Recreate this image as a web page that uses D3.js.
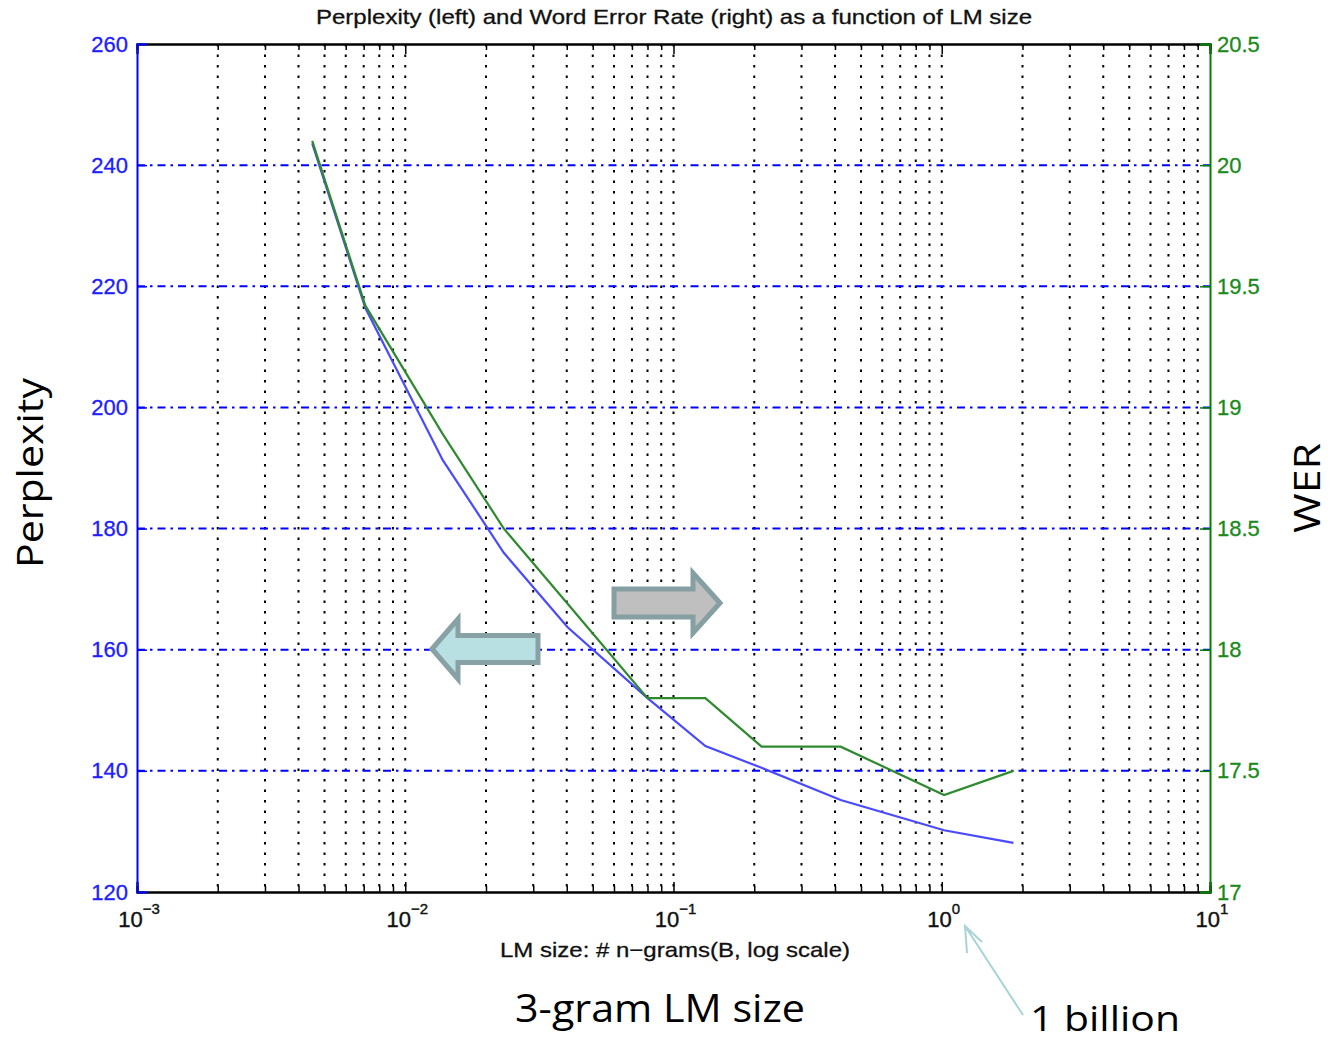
<!DOCTYPE html>
<html>
<head>
<meta charset="utf-8">
<script src="https://cdn.jsdelivr.net/npm/d3@7"></script>
<style>
  body { margin: 0; background: #fff; }
  svg { display: block; }
</style>
</head>
<body>
<div id="chart"></div>
<script>
// LM size in billions of n-grams
const lmSize = [0.0045, 0.0071, 0.0138, 0.0233, 0.0403, 0.080, 0.1315, 0.213, 0.42, 1.02, 1.85]
const perplexity = [243.6, 216.4, 191.3, 176.0, 163.7, 152.0, 144.1, 140.5, 135.2, 130.2, 128.1]
const wer = [20.10, 19.42, 18.89, 18.50, 18.19, 17.80, 17.80, 17.60, 17.60, 17.40, 17.50]

const xMajor = [1e-3, 1e-2, 1e-1, 1e0, 1e1]
const xExp = ['−3', '−2', '−1', '0', '1']
const pplTicks = [120, 140, 160, 180, 200, 220, 240, 260]
const werTicks = [17, 17.5, 18, 18.5, 19, 19.5, 20, 20.5]

const svg = d3.select('#chart').append('svg')
  .attr('width', 1330)
  .attr('height', 1043)

const margin = {top: 44, right: 120, bottom: 151, left: 137}
const width = 1330 - margin.left - margin.right
const height = 1043 - margin.top - margin.bottom

const g = svg.append('g')
  .attr('transform', `translate(${margin.left}, ${margin.top})`)

const x = d3.scaleLog().domain([1e-3, 1e1]).range([0, width])
const yL = d3.scaleLinear().domain([120, 260]).range([height, 0])
const yR = d3.scaleLinear().domain([17, 20.5]).range([height, 0])

// minor ticks 2..9 in every decade
const xMinor = []
xMajor.slice(0, -1).forEach(d => {
  for (let k = 2; k <= 9; k++) xMinor.push(d * k)
})

// vertical dotted grid
g.append('g').selectAll('line')
  .data(xMinor.concat(xMajor.slice(1, -1)))
  .enter().append('line')
  .attr('x1', d => x(d)).attr('x2', d => x(d))
  .attr('y1', 0).attr('y2', height)
  .attr('stroke', '#000')
  .attr('stroke-width', 2)
  .attr('stroke-dasharray', '2.5,8')

// horizontal dash-dot grid
g.append('g').selectAll('line')
  .data(pplTicks.slice(1, -1))
  .enter().append('line')
  .attr('x1', 0).attr('x2', width)
  .attr('y1', d => yL(d)).attr('y2', d => yL(d))
  .attr('stroke', '#0000ff')
  .attr('stroke-width', 2)
  .attr('stroke-dasharray', '8,5,2.5,5')

// top & bottom frame with ticks
const axB = g.append('g').attr('transform', `translate(0, ${height})`)
  .call(d3.axisBottom(x).tickValues(xMajor).tickSize(-10).tickFormat(''))
const axBm = g.append('g').attr('transform', `translate(0, ${height})`)
  .call(d3.axisBottom(x).tickValues(xMinor).tickSize(-6).tickFormat(''))
const axT = g.append('g')
  .call(d3.axisTop(x).tickValues(xMajor).tickSize(-10).tickFormat(''))
const axTm = g.append('g')
  .call(d3.axisTop(x).tickValues(xMinor).tickSize(-6).tickFormat(''))
;[axB, axBm, axT, axTm].forEach(a => {
  a.select('.domain').attr('stroke', '#000').attr('stroke-width', 2)
  a.selectAll('.tick line').attr('stroke', '#000').attr('stroke-width', 1.5)
})

// x tick labels as 10^n
const xl = g.append('g').selectAll('text')
  .data(xMajor)
  .enter().append('text')
  .attr('x', d => x(d) + 2)
  .attr('y', height + 35)
  .attr('text-anchor', 'middle')
  .attr('font-family', 'Liberation Sans, Arial, sans-serif')
  .attr('font-size', 22)
  .attr('fill', '#111')
  .attr('stroke', '#111')
  .attr('stroke-width', 0.4)
xl.append('tspan').text('10')
xl.append('tspan').attr('dy', -13).attr('font-size', 15).text((d, i) => xExp[i])

// left axis (blue)
const axL = g.append('g')
  .call(d3.axisLeft(yL).tickValues(pplTicks).tickSize(-10).tickPadding(9))
axL.select('.domain').attr('stroke', '#0000ff').attr('stroke-width', 2)
axL.selectAll('.tick line').attr('stroke', '#0000ff').attr('stroke-width', 1.5)
axL.selectAll('.tick text')
  .attr('fill', '#2020ff')
  .attr('stroke', '#2020ff')
  .attr('stroke-width', 0.3)
  .attr('font-family', 'Liberation Sans, Arial, sans-serif')
  .attr('font-size', 22)

// right axis (green)
const axR = g.append('g').attr('transform', `translate(${width}, 0)`)
  .call(d3.axisRight(yR).tickValues(werTicks).tickSize(-10).tickPadding(7)
    .tickFormat(d3.format('')))
axR.select('.domain').attr('stroke', '#008000').attr('stroke-width', 2)
axR.selectAll('.tick line').attr('stroke', '#008000').attr('stroke-width', 1.5)
axR.selectAll('.tick text')
  .attr('fill', '#1b8a1b')
  .attr('stroke', '#1b8a1b')
  .attr('stroke-width', 0.3)
  .attr('font-family', 'Liberation Sans, Arial, sans-serif')
  .attr('font-size', 22)

// series
const rows = lmSize.map((d, i) => ({size: d, ppl: perplexity[i], wer: wer[i]}))

g.append('path')
  .datum(rows)
  .attr('fill', 'none')
  .attr('stroke', '#4a4aff')
  .attr('stroke-width', 2.2)
  .attr('d', d3.line().x(d => x(d.size)).y(d => yL(d.ppl)))

g.append('path')
  .datum(rows)
  .attr('fill', 'none')
  .attr('stroke', '#2f8a2f')
  .attr('stroke-width', 2.2)
  .attr('d', d3.line().x(d => x(d.size)).y(d => yR(d.wer)))

// block arrows pointing to each axis
function blockArrow(tipX, tipY, dir, len, bodyH, headH, headL) {
  const b = tipX - dir * headL
  const e = tipX - dir * len
  return `M${tipX},${tipY} L${b},${tipY - headH / 2} L${b},${tipY - bodyH / 2} L${e},${tipY - bodyH / 2}` +
    ` L${e},${tipY + bodyH / 2} L${b},${tipY + bodyH / 2} L${b},${tipY + headH / 2} Z`
}
svg.append('path')
  .attr('d', blockArrow(432, 649, -1, 106, 27, 60, 26))
  .attr('fill', '#b8dfe2')
  .attr('stroke', '#87a1a4')
  .attr('stroke-width', 5)
  .attr('stroke-linejoin', 'miter')
svg.append('path')
  .attr('d', blockArrow(720, 603, 1, 106, 28, 60, 27))
  .attr('fill', '#bfbfbf')
  .attr('stroke', '#869fa2')
  .attr('stroke-width', 5)

// titles
svg.append('text')
  .attr('x', 674).attr('y', 24)
  .attr('text-anchor', 'middle')
  .attr('font-family', 'Liberation Sans, Arial, sans-serif')
  .attr('font-size', 21)
  .attr('textLength', 716)
  .attr('lengthAdjust', 'spacingAndGlyphs')
  .attr('fill', '#111')
  .attr('stroke', '#111')
  .attr('stroke-width', 0.3)
  .text('Perplexity (left) and Word Error Rate (right) as a function of LM size')

svg.append('text')
  .attr('x', 675).attr('y', 957)
  .attr('text-anchor', 'middle')
  .attr('font-family', 'Liberation Sans, Arial, sans-serif')
  .attr('font-size', 21)
  .attr('textLength', 350)
  .attr('lengthAdjust', 'spacingAndGlyphs')
  .attr('fill', '#111')
  .attr('stroke', '#111')
  .attr('stroke-width', 0.3)
  .text('LM size: # n−grams(B, log scale)')

svg.append('text')
  .attr('transform', 'translate(43, 473) rotate(-90)')
  .attr('text-anchor', 'middle')
  .attr('font-family', 'Open Sans, sans-serif')
  .attr('font-size', 37)
  .attr('textLength', 190)
  .attr('lengthAdjust', 'spacingAndGlyphs')
  .attr('fill', '#000')
  .text('Perplexity')

svg.append('text')
  .attr('transform', 'translate(1320, 488) rotate(-90)')
  .attr('text-anchor', 'middle')
  .attr('font-family', 'Open Sans, sans-serif')
  .attr('font-size', 36)
  .attr('textLength', 90)
  .attr('lengthAdjust', 'spacingAndGlyphs')
  .attr('fill', '#000')
  .text('WER')

svg.append('text')
  .attr('x', 660).attr('y', 1022)
  .attr('text-anchor', 'middle')
  .attr('font-family', 'Open Sans, sans-serif')
  .attr('font-size', 38)
  .attr('textLength', 290)
  .attr('lengthAdjust', 'spacingAndGlyphs')
  .attr('fill', '#000')
  .text('3-gram LM size')

svg.append('text')
  .attr('x', 1030).attr('y', 1031)
  .attr('font-family', 'Open Sans, sans-serif')
  .attr('font-size', 35)
  .attr('textLength', 150)
  .attr('lengthAdjust', 'spacingAndGlyphs')
  .attr('fill', '#000')
  .text('1 billion')

// pointer to 10^0
svg.append('path')
  .attr('d', 'M1023,1015 L965,926 M982,942 L965,926 L967,953')
  .attr('fill', 'none')
  .attr('stroke', '#a8d4d7')
  .attr('stroke-width', 2)
</script>
</body>
</html>
